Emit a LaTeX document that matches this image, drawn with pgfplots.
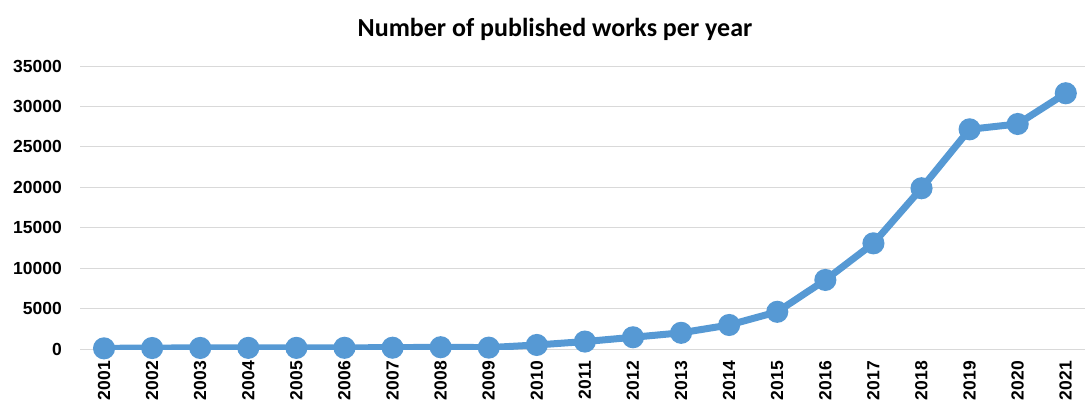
\documentclass[border=0pt]{standalone}
\usepackage{fontspec}
\setmainfont{Liberation Sans}
\newfontfamily\carlito{Carlito}
\usepackage{pgfplots}
\pgfplotsset{compat=1.18}
\definecolor{lineblue}{HTML}{5699D4}
\begin{document}
\begin{tikzpicture}[x=1pt,y=1pt]
\useasboundingbox (0,0) rectangle (1085,400);
\clip (0,0) rectangle (1085,400);
\begin{axis}[
  at={(80pt,51pt)}, anchor=south west,
  scale only axis, width=1005pt, height=283pt,
  xmin=2000.5, xmax=2021.4, ymin=0, ymax=35000,
  axis line style={draw=none},
  tick style={draw=none},
  ymajorgrids, grid style={color=black!15, line width=1pt},
  xtick={2001,...,2021},
  ytick={0,5000,...,35000},
  scaled y ticks=false,
  /pgf/number format/.cd, 1000 sep={}, assume math mode=true, /pgfplots/.cd,
  x tick label style={rotate=90, anchor=east, inner sep=0pt, font=\bfseries\fontsize{17.5}{20}\selectfont},
  xticklabel shift=12pt,
  y tick label style={anchor=east, inner sep=0pt, font=\bfseries\fontsize{17.5}{20}\selectfont},
  yticklabel shift=18pt,
]
\addplot[color=lineblue, line width=7pt, mark=*, mark size=7.5pt, mark options={fill=lineblue, draw=none}] coordinates {
(2001,80) (2002,120) (2003,130) (2004,140) (2005,140) (2006,150) (2007,160) (2008,220) (2009,170)
(2010,500) (2011,920) (2012,1450) (2013,2000) (2014,2970) (2015,4600) (2016,8540)
(2017,13070) (2018,19880) (2019,27170) (2020,27830) (2021,31630)
};
\end{axis}
\node[font=\carlito\bfseries\fontsize{26}{31}\selectfont] at (555,371) {Number of published works per year};
\end{tikzpicture}
\end{document}
